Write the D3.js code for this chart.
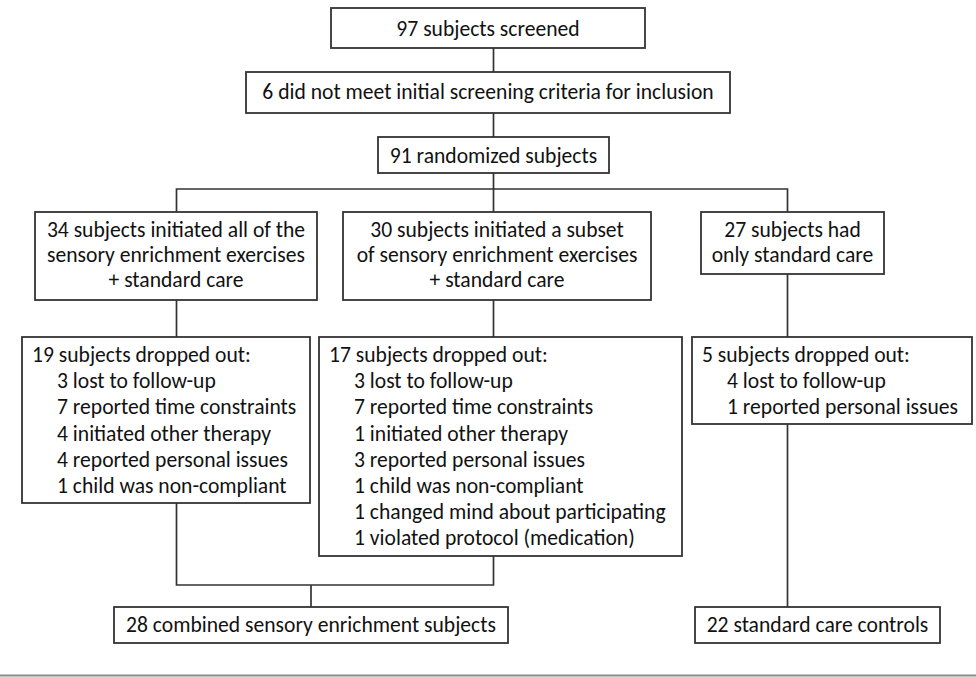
<!DOCTYPE html>
<html>
<head>
<meta charset="utf-8">
<script src="https://cdn.jsdelivr.net/npm/d3@7"></script>
<style>
  html, body { margin: 0; padding: 0; background: #fff; }
  svg { display: block; }
  .box { fill: #fff; stroke: #333; stroke-width: 1.8; }
  .link { fill: none; stroke: #333; stroke-width: 1.7; }
  text { fill: #111; font-family: Carlito, Calibri, Lato, sans-serif; }
</style>
</head>
<body>
<div id="chart"></div>
<script>
// flow chart texts
var screened = ["97 subjects screened"];
var excluded = ["6 did not meet initial screening criteria for inclusion"];
var randomized = ["91 randomized subjects"];
var armLabels = [
  ["34 subjects initiated all of the", "sensory enrichment exercises", "+ standard care"],
  ["30 subjects initiated a subset", "of sensory enrichment exercises", "+ standard care"],
  ["27 subjects had", "only standard care"]
];
var dropoutTotals = ["19 subjects dropped out:", "17 subjects dropped out:", "5 subjects dropped out:"];
var dropoutReasons = [
  ["3 lost to follow-up", "7 reported time constraints", "4 initiated other therapy",
   "4 reported personal issues", "1 child was non-compliant"],
  ["3 lost to follow-up", "7 reported time constraints", "1 initiated other therapy",
   "3 reported personal issues", "1 child was non-compliant",
   "1 changed mind about participating", "1 violated protocol (medication)"],
  ["4 lost to follow-up", "1 reported personal issues"]
];
var finalGroups = ["28 combined sensory enrichment subjects", "22 standard care controls"];

var width = 976, height = 677;
var fontSize = 21.6;

var svg = d3.select("#chart").append("svg")
  .attr("width", width)
  .attr("height", height);

// box geometry (layout only)
var boxes = {
  screened:   {x0: 331, x1: 645, y0: 8,   y1: 48,  text: screened,   base: 36, step: 25},
  excluded:   {x0: 246, x1: 730, y0: 72,  y1: 113, text: excluded,   base: 99, step: 25},
  randomized: {x0: 378, x1: 609, y0: 137, y1: 173, text: randomized, base: 163, step: 25},
  arm0: {x0: 35,  x1: 317, y0: 212, y1: 300, text: armLabels[0], base: 237, step: 25},
  arm1: {x0: 343, x1: 651, y0: 212, y1: 300, text: armLabels[1], base: 237, step: 25},
  arm2: {x0: 701, x1: 884, y0: 212, y1: 274, text: armLabels[2], base: 237, step: 25},
  drop0: {x0: 22,  x1: 310, y0: 337, y1: 503, head: dropoutTotals[0], list: dropoutReasons[0]},
  drop1: {x0: 319, x1: 682, y0: 337, y1: 556, head: dropoutTotals[1], list: dropoutReasons[1]},
  drop2: {x0: 692, x1: 972, y0: 337, y1: 424, head: dropoutTotals[2], list: dropoutReasons[2]},
  final0: {x0: 114, x1: 508, y0: 607, y1: 643, text: [finalGroups[0]], base: 632, step: 25},
  final1: {x0: 695, x1: 940, y0: 607, y1: 643, text: [finalGroups[1]], base: 632, step: 25}
};

// connector columns
var col = d3.scaleOrdinal().domain(["left", "mid", "right", "merge"]).range([176.5, 493.5, 787.5, 311]);

var links = [
  [[col("mid"), 48], [col("mid"), 72]],
  [[col("mid"), 113], [col("mid"), 137]],
  [[col("mid"), 173], [col("mid"), 189]],
  [[col("left"), 212], [col("left"), 189], [col("right"), 189], [col("right"), 212]],
  [[col("mid"), 189], [col("mid"), 212]],
  [[col("left"), 300], [col("left"), 337]],
  [[col("mid"), 300], [col("mid"), 337]],
  [[col("right"), 274], [col("right"), 337]],
  [[col("left"), 503], [col("left"), 585], [col("mid"), 585], [col("mid"), 556]],
  [[col("merge"), 585], [col("merge"), 607]],
  [[col("right"), 424], [col("right"), 607]]
];

svg.selectAll("path.link")
  .data(links)
  .enter()
  .append("path")
  .attr("class", "link")
  .attr("d", d3.line());

var boxList = Object.keys(boxes).map(function (k) { return boxes[k]; });

svg.selectAll("rect.box")
  .data(boxList)
  .enter()
  .append("rect")
  .attr("class", "box")
  .attr("x", function (d) { return d.x0; })
  .attr("y", function (d) { return d.y0; })
  .attr("width", function (d) { return d.x1 - d.x0; })
  .attr("height", function (d) { return d.y1 - d.y0; });

// centered boxes
boxList.filter(function (d) { return d.text; }).forEach(function (b) {
  svg.append("g").selectAll("text")
    .data(b.text)
    .enter()
    .append("text")
    .attr("x", (b.x0 + b.x1) / 2)
    .attr("y", function (t, i) { return b.base + i * b.step; })
    .attr("text-anchor", "middle")
    .attr("font-size", fontSize)
    .text(function (t) { return t; });
});

// drop-out lists, heading plus indented reasons
var listStep = 26.2;
boxList.filter(function (d) { return d.head; }).forEach(function (b) {
  var g = svg.append("g");
  g.append("text")
    .attr("x", b.x0 + 10)
    .attr("y", 362)
    .attr("font-size", fontSize)
    .text(b.head);
  g.selectAll("text.reason")
    .data(b.list)
    .enter()
    .append("text")
    .attr("class", "reason")
    .attr("x", b.x0 + 35)
    .attr("y", function (t, i) { return 362 + (i + 1) * listStep; })
    .attr("font-size", fontSize)
    .text(function (t) { return t; });
});

// thin rule at the bottom
svg.append("line")
  .attr("x1", 0).attr("x2", width)
  .attr("y1", 675.5).attr("y2", 675.5)
  .attr("stroke", "#8a8a8a")
  .attr("stroke-width", 2);
</script>
</body>
</html>
